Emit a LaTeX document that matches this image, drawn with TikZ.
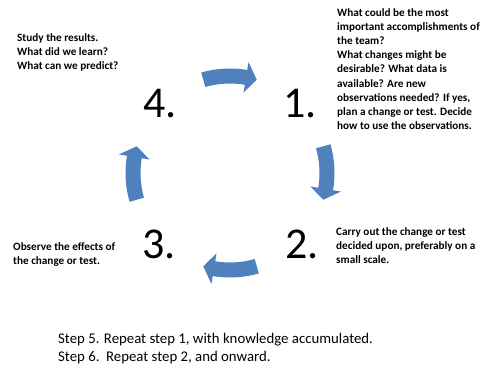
\documentclass[tikz,border=0pt]{standalone}
\usepackage{fontspec}
\setmainfont{Carlito}
\definecolor{arrowblue}{RGB}{79,129,189}
\newcommand{\cycarrow}[1]{%
  \fill[arrowblue] ({#1+16}:104.5) arc[start angle={#1+16}, end angle={#1-9.5}, radius=104.5]
    -- ({#1-9.5}:112.5) -- ({#1-16}:97) -- ({#1-9.5}:81.5) -- ({#1-9.5}:89.5)
    arc[start angle={#1-9.5}, end angle={#1+16}, radius=89.5] -- cycle;}
\begin{document}
\begin{tikzpicture}[x=1pt,y=1pt,
  note/.style={anchor=north west, inner sep=0pt, align=left,
    font=\bfseries\fontsize{11.2}{14.2}\selectfont},
  bignum/.style={anchor=base west, inner sep=0pt, font=\fontsize{44}{44}\selectfont},
  steps/.style={anchor=north west, inner sep=0pt, align=left,
    font=\fontsize{14.8}{18}\selectfont}]
\fill[white] (0,0) rectangle (485,368);
\useasboundingbox (0,0) rectangle (485,368);
\begin{scope}[shift={(230,195)}]
  \cycarrow{90}
  \cycarrow{0}
  \cycarrow{-90}
  \cycarrow{180}
\end{scope}
\node[bignum] (n4) at (143,251) {4.};
\node[bignum] (n1) at (283,251) {1.};
\node[bignum] (n3) at (142,110) {3.};
\node[bignum] (n2) at (285,110) {2.};
\node[note] (t4) at (17,335) {Study the results.\\What did we learn?\\What can we predict?};
\node[note] (t1) at (337,360) {What could be the most\\important accomplishments of\\the team?\\What changes might be\\desirable? What data is\\available? Are new\\observations needed? If yes,\\plan a change or test. Decide\\how to use the observations.};
\node[note] (t2) at (336,141) {Carry out the change or test\\decided upon, preferably on a\\small scale.};
\node[note] (t3) at (13,126) {Observe the effects of\\the change or test.};
\node[steps] (st) at (58,35) {Step 5. Repeat step 1, with knowledge accumulated.\\Step 6.\ \ Repeat step 2, and onward.};
\end{tikzpicture}
\end{document}
